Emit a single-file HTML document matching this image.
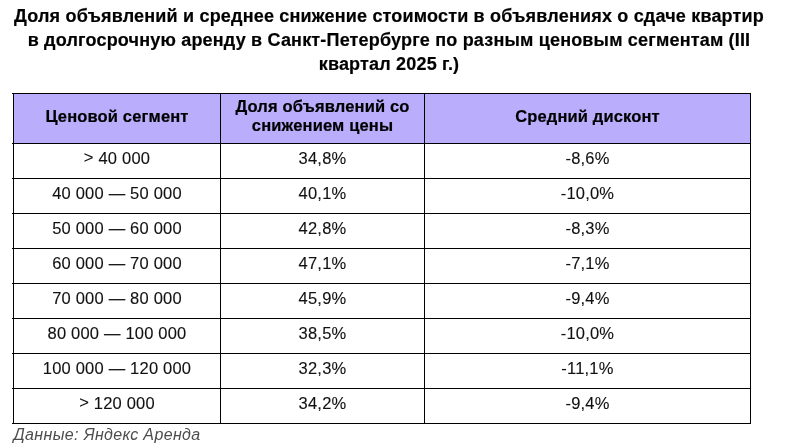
<!DOCTYPE html>
<html><head><meta charset="utf-8">
<style>
html,body{margin:0;padding:0;background:#fff;}
body{width:786px;height:444px;position:relative;overflow:hidden;font-family:"Liberation Sans",sans-serif;color:#000;}
.tl{position:absolute;left:-4px;width:786px;text-align:center;white-space:nowrap;font-weight:bold;font-size:18px;letter-spacing:0.185px;line-height:24px;color:#000;-webkit-text-stroke:0.2px #000;}
.hl{position:absolute;background:#000;height:1px;left:12px;width:739px;}
.vl{position:absolute;background:#000;width:1px;top:93px;height:331px;}
.hdr{position:absolute;left:13px;top:93px;width:738px;height:50px;background:#b9adfc;}
.c{position:absolute;text-align:center;white-space:nowrap;font-size:16.5px;letter-spacing:0.2px;line-height:20px;height:20px;color:#111;-webkit-text-stroke:0.12px #111;}
.c1{left:14px;width:206px;}
.c2{left:221px;width:203px;}
.c3{left:425px;width:325px;}
.h{font-weight:bold;letter-spacing:0.15px;color:#000;-webkit-text-stroke:0.2px #000;}
.foot{position:absolute;left:13.5px;top:425px;font-style:italic;font-size:16px;letter-spacing:0.35px;line-height:20px;color:#4d4d4d;white-space:nowrap;}
</style></head><body><div id="w" style="position:absolute;left:0;top:0;width:786px;height:444px;will-change:transform">
<div class="tl" style="top:4px">Доля объявлений и среднее снижение стоимости в объявлениях о сдаче квартир</div>
<div class="tl" style="top:28px">в долгосрочную аренду в Санкт-Петербурге по разным ценовым сегментам (III</div>
<div class="tl" style="top:52px">квартал 2025 г.)</div>
<div class="hdr"></div>
<div class="hl" style="top:93px"></div>
<div class="hl" style="top:143px"></div>
<div class="hl" style="top:178px"></div>
<div class="hl" style="top:213px"></div>
<div class="hl" style="top:248px"></div>
<div class="hl" style="top:283px"></div>
<div class="hl" style="top:318px"></div>
<div class="hl" style="top:353px"></div>
<div class="hl" style="top:388px"></div>
<div class="hl" style="top:423px"></div>
<div class="vl" style="left:13px"></div>
<div class="vl" style="left:220px"></div>
<div class="vl" style="left:424px"></div>
<div class="vl" style="left:750px"></div>
<div class="c h c1" style="top:106px">Ценовой сегмент</div>
<div class="c h c2" style="top:97px;height:40px;line-height:19px">Доля объявлений со<br>снижением цены</div>
<div class="c h c3" style="top:106px">Средний дисконт</div>
<div class="c c1" style="top:148px"><span style="position:relative;top:-1px">&gt;</span> 40 000</div><div class="c c2" style="top:148px">34,8%</div><div class="c c3" style="top:148px">-8,6%</div>
<div class="c c1" style="top:183px">40 000 — 50 000</div><div class="c c2" style="top:183px">40,1%</div><div class="c c3" style="top:183px">-10,0%</div>
<div class="c c1" style="top:218px">50 000 — 60 000</div><div class="c c2" style="top:218px">42,8%</div><div class="c c3" style="top:218px">-8,3%</div>
<div class="c c1" style="top:253px">60 000 — 70 000</div><div class="c c2" style="top:253px">47,1%</div><div class="c c3" style="top:253px">-7,1%</div>
<div class="c c1" style="top:288px">70 000 — 80 000</div><div class="c c2" style="top:288px">45,9%</div><div class="c c3" style="top:288px">-9,4%</div>
<div class="c c1" style="top:323px">80 000 — 100 000</div><div class="c c2" style="top:323px">38,5%</div><div class="c c3" style="top:323px">-10,0%</div>
<div class="c c1" style="top:358px">100 000 — 120 000</div><div class="c c2" style="top:358px">32,3%</div><div class="c c3" style="top:358px">-11,1%</div>
<div class="c c1" style="top:393px"><span style="position:relative;top:-1px">&gt;</span> 120 000</div><div class="c c2" style="top:393px">34,2%</div><div class="c c3" style="top:393px">-9,4%</div>
<div class="foot">Данные: Яндекс Аренда</div>
</div></body></html>
